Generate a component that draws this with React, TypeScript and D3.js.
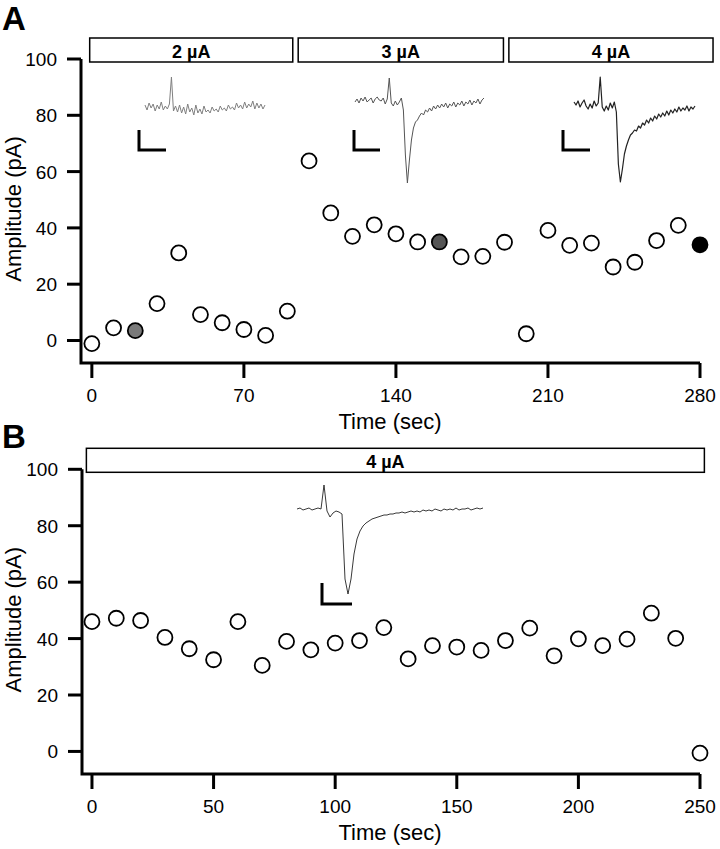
import React from 'react'
import { scaleLinear, line } from 'd3'

// panel A: stimulation at 2, 3 and 4 uA
const aTimes = [0, 10, 20, 30, 40, 50, 60, 70, 80, 90, 100, 110, 120, 130, 140, 150, 160, 170, 180, 190, 200, 210, 220, 230, 240, 250, 260, 270, 280]
const aAmps = [-1.1, 4.5, 3.5, 13.1, 31.1, 9.2, 6.3, 3.9, 1.8, 10.4, 63.8, 45.3, 37, 41.1, 37.9, 35, 35, 29.7, 29.9, 34.9, 2.4, 39.1, 33.8, 34.6, 26.1, 27.8, 35.5, 40.9, 34]
const aHighlight = [20, 160, 280] // the points whose trace is shown
const aXTicks = [0, 70, 140, 210, 280]
const aStimStart = [-1, 95, 192]
const aStimEnd = [92.5, 189.5, 286]
const aStimLabel = ['2 µA', '3 µA', '4 µA']

// panel B: 4 uA throughout
const bTimes = [0, 10, 20, 30, 40, 50, 60, 70, 80, 90, 100, 110, 120, 130, 140, 150, 160, 170, 180, 190, 200, 210, 220, 230, 240, 250]
const bAmps = [46, 47.2, 46.4, 40.4, 36.4, 32.5, 46, 30.5, 39, 36, 38.4, 39.3, 43.9, 32.8, 37.5, 37, 35.8, 39.3, 43.7, 33.9, 39.9, 37.5, 39.8, 49, 40.1, -0.6]
const bXTicks = [0, 50, 100, 150, 200, 250]
const bStimStart = [-2.3]
const bStimEnd = [251.8]
const bStimLabel = ['4 µA']

const yTicks = [0, 20, 40, 60, 80, 100]

// example traces (arbitrary units, upward = positive)
const trace2uA = [2, -3, 4, -1, 3, -4, 2, -2, 5, -3, 1, -2, 3, 30, -4, 1, -5, 2, -6, 0, -7, 3, -5, -1, -8, 2, -6, -2, -7, 1, -5, -3, -6, 0, -4, -2, -5, 1, -3, -1, -4, 2, -2, 0, -3, 4, -1, 2, -2, 5, -1, 3, 0, 6, -2, 4, -1, 3, -2, 2]
const trace3uA = [-2, 1, -3, 2, -1, 3, -2, 0, 2, -3, 1, 3, 0, -1, 2, -4, 1, 22, -3, -6, -1, -5, -2, 2, -10, -55, -83, -60, -40, -28, -22, -20, -16, -13, -15, -10, -12, -8, -11, -6, -9, -5, -8, -4, -7, -3, -8, -4, -6, -2, -7, -3, -5, -1, -6, -2, -4, 0, -5, -1, -3, 1, -4, 0, 2]
const trace4uA = [2, -1, 3, -3, 1, 4, -2, -5, 0, -4, 3, -2, 1, 27, -3, -7, -2, -6, 1, -4, 2, -8, -60, -78, -65, -50, -42, -36, -31, -29, -26, -27, -22, -24, -19, -21, -16, -19, -14, -17, -12, -15, -10, -13, -9, -12, -7, -11, -6, -9, -5, -8, -3, -7, -4, -6, -2, -7, -3, -5, -2]
const traceB = [0, 1, -1, 0, 1, -1, 0, 1, 0, 24, -2, -8, -4, -2, -3, -5, -70, -85, -70, -45, -30, -22, -17, -14, -12, -10, -9, -8, -7, -6, -6, -5, -5, -4, -4, -3, -4, -3, -2, -3, -2, -3, -1, -2, -1, -2, 0, -1, -2, 0, -1, 0, -1, 1, -1, 0, 0, 1, -1, 0, 1, 0, 1]

const font = '"Liberation Sans", Arial, sans-serif'

const Inset = ({ values, x0, x1, base, color, sw, barX, barY, barW, barH }) => {
  const xs = scaleLinear().domain([0, values.length - 1]).range([x0, x1])
  const ys = scaleLinear().domain([0, 20]).range([base, base - 20])
  const path = line().x((d, i) => xs(i)).y(d => ys(d))(values)
  return (
    <g>
      <path d={path} fill="none" stroke={color} strokeWidth={sw} strokeLinejoin="round" />
      <path d={`M${barX},${barY - barH} V${barY} H${barX + barW}`} fill="none" stroke="#000" strokeWidth={3} />
    </g>
  )
}

const Panel = ({ times, amps, xTicks, xRange, xDomain, yRange, stimStart, stimEnd, stimLabel, highlight, labelShift }) => {
  const x = scaleLinear().domain(xDomain).range(xRange)
  const y = scaleLinear().domain([-8, 100]).range(yRange)
  const [x0, x1] = xRange
  const yb = yRange[0]
  const fillFor = t => {
    if (!highlight) return '#fff'
    const k = highlight.indexOf(t)
    return k === 0 ? '#7a7a7a' : k === 1 ? '#555' : k === 2 ? '#000' : '#fff'
  }
  return (
    <g fontFamily={font}>
      {stimStart.map((s, i) => (
        <g key={i}>
          <rect x={x(s)} y={y(100) - 21} width={x(stimEnd[i]) - x(s)} height={24} fill="#fff" stroke="#000" strokeWidth={1.5} />
          <text x={(x(s) + x(stimEnd[i])) / 2 + (labelShift || 0)} y={y(100) - 1} textAnchor="middle" fontWeight="bold" fontSize={18}>{stimLabel[i]}</text>
        </g>
      ))}
      <path d={`M${x0},${y(100)} V${yb} H${x1}`} fill="none" stroke="#000" strokeWidth={3} />
      {yTicks.map(t => (
        <g key={t}>
          <line x1={x0 - 14} x2={x0} y1={y(t)} y2={y(t)} stroke="#000" strokeWidth={3} />
          <text x={x0 - 24} y={y(t) + 7} textAnchor="end" fontSize={19}>{t}</text>
        </g>
      ))}
      {xTicks.map(t => (
        <g key={t}>
          <line x1={x(t)} x2={x(t)} y1={yb} y2={yb + 15} stroke="#000" strokeWidth={3} />
          <text x={x(t)} y={yb + 39} textAnchor="middle" fontSize={19}>{t}</text>
        </g>
      ))}
      <text x={390} y={yb + 66} textAnchor="middle" fontSize={22}>Time (sec)</text>
      <text transform={`translate(21,${(y(100) + yb) / 2 - 2}) rotate(-90)`} textAnchor="middle" fontSize={22}>Amplitude (pA)</text>
      {times.map((t, i) => (
        <circle key={i} cx={x(t)} cy={y(amps[i])} r={7.5} fill={fillFor(t)} stroke="#000" strokeWidth={1.8} />
      ))}
    </g>
  )
}

const App = () => {
  const width = 720
  const height = 849
  return (
    <svg width={width} height={height} style={{ position: 'absolute', left: 0, top: 0, background: '#fff' }}>
      <text x={2} y={30} fontFamily={font} fontWeight="bold" fontSize={33}>A</text>
      <text x={2} y={448} fontFamily={font} fontWeight="bold" fontSize={33}>B</text>
      <Panel times={aTimes} amps={aAmps} xTicks={aXTicks} xDomain={[-5, 280]} xRange={[81, 700]} yRange={[363, 59]}
        stimStart={aStimStart} stimEnd={aStimEnd} stimLabel={aStimLabel} highlight={aHighlight} />
      <Panel times={bTimes} amps={bAmps} xTicks={bXTicks} xDomain={[-4.1, 250]} xRange={[82, 700]} yRange={[774, 469.3]}
        stimStart={bStimStart} stimEnd={bStimEnd} stimLabel={bStimLabel} labelShift={-10} />
      <Inset values={trace2uA} x0={145} x1={265} base={107} color="#808080" sw={1} barX={139} barY={150} barW={27} barH={20} />
      <Inset values={trace3uA} x0={355} x1={484} base={100} color="#555" sw={1} barX={354} barY={150} barW={26} barH={20} />
      <Inset values={trace4uA} x0={574} x1={695} base={104} color="#222" sw={1.2} barX={563} barY={150} barW={27} barH={20} />
      <Inset values={traceB} x0={297} x1={483} base={509} color="#222" sw={0.9} barX={322} barY={604} barW={30} barH={21} />
    </svg>
  )
}

export default App
